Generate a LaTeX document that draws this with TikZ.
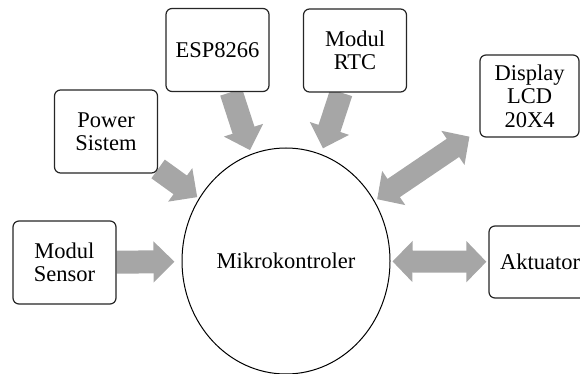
\documentclass[tikz,border=0pt]{standalone}
\usepackage{fontspec}
\setmainfont{Liberation Serif}
\usetikzlibrary{shapes.geometric,arrows.meta}
\definecolor{arrowgray}{RGB}{166,166,166}
\pgfdeclarelayer{bg}
\pgfsetlayers{bg,main}
\tikzset{
  blok/.style={shape=rectangle,draw=black!85,line width=1.2pt,rounded corners=6pt,fill=white,
    minimum width=103pt,minimum height=83pt,align=center,font=\fontsize{22.5}{23.5}\selectfont},
  panah/.style={draw=arrowgray,line width=23pt,-{Triangle[width=40pt,length=21pt]}},
  panahdua/.style={draw=arrowgray,line width=22pt,{Triangle[width=40pt,length=20pt]}-{Triangle[width=40pt,length=20pt]}},
}

\begin{document}
\begin{tikzpicture}[x=1pt,y=-1pt]
\useasboundingbox (0,0) rectangle (580,374);

\path (286,261) node [shape=ellipse,draw=black,line width=1pt,fill=white,minimum width=208pt,minimum height=226pt,font=\fontsize{22.5}{23.5}\selectfont] (mcu) {Mikrokontroler};

\path (64.5,262.5) node [blok] (sensor) {Modul\\Sensor};

\path (106,131.5) node [blok] (power) {Power\\Sistem};

\path (217.5,50) node [blok] (esp) {ESP8266};

\path (355,50.5) node [blok] (rtc) {Modul\\RTC};

\path (529.5,96) node [blok,minimum width=99pt,minimum height=82pt] (lcd) {Display\\LCD\\20X4};

\path (540,262) node [blok,minimum width=102pt,minimum height=72pt] (akt) {Aktuator};

\begin{pgfonlayer}{bg}
\draw [panah,shorten >=7pt] (sensor) -- (mcu);
\draw [panah,shorten >=2pt] (power) -- (mcu);
\draw [panah,shorten >=4pt] (esp) -- (mcu);
\draw [panah,shorten >=6pt] (rtc) -- (mcu);
\draw [panahdua,shorten <=12pt,shorten >=3pt] (lcd) -- (mcu);
\draw [panahdua,shorten <=2pt,shorten >=2pt] (mcu) -- (akt);
\end{pgfonlayer}

\end{tikzpicture}
\end{document}
